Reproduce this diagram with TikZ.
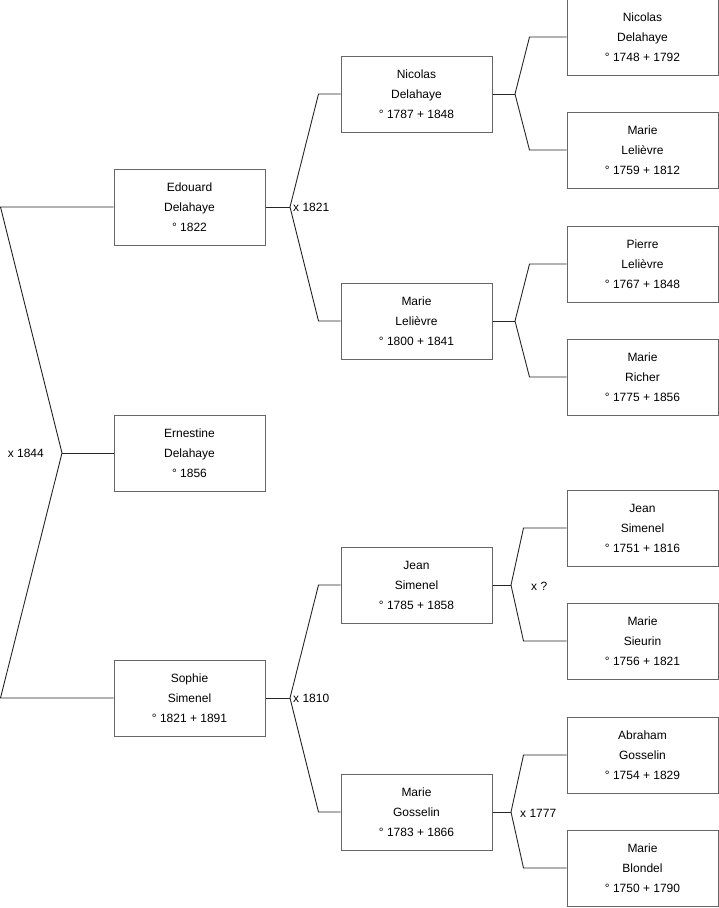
\documentclass[tikz,border=0pt]{standalone}
\usepackage{fontspec}
\setmainfont{Liberation Sans}
\usetikzlibrary{positioning}

\begin{document}
\begin{tikzpicture}[
  x=1pt, y=-1pt,
  font=\fontsize{12}{20}\selectfont,
  person/.style={draw=black!60, line width=1pt, align=center, minimum width=151pt, minimum height=76pt, inner sep=0pt, fill=white},
  link/.style={draw=black!85, line width=0.9pt},
  wed/.style={inner sep=3pt}
]
\useasboundingbox (0,0) rectangle (719,908);

% generation 1
\node[person] (edouard) at (189.5,207) {Edouard\\Delahaye\\° 1822};
\node[person] (ernestine) at (189.5,453) {Ernestine\\Delahaye\\° 1856};
\node[person] (sophie) at (189.5,698) {Sophie\\Simenel\\° 1821 + 1891};

% generation 2
\node[person] (nicolas) at (416.5,94) {Nicolas\\Delahaye\\° 1787 + 1848};
\node[person] (marieL) at (416.5,321) {Marie\\Lelièvre\\° 1800 + 1841};
\node[person] (jean) at (416.5,585) {Jean\\Simenel\\° 1785 + 1858};
\node[person] (marieG) at (416.5,812) {Marie\\Gosselin\\° 1783 + 1866};

% generation 3
\node[person] (nicolasD) at (642.5,37) {Nicolas\\Delahaye\\° 1748 + 1792};
\node[person] (marieLe) at (642.5,150) {Marie\\Lelièvre\\° 1759 + 1812};
\node[person] (pierre) at (642.5,264) {Pierre\\Lelièvre\\° 1767 + 1848};
\node[person] (marieR) at (642.5,377) {Marie\\Richer\\° 1775 + 1856};
\node[person] (jeanS) at (642.5,528) {Jean\\Simenel\\° 1751 + 1816};
\node[person] (marieS) at (642.5,641) {Marie\\Sieurin\\° 1756 + 1821};
\node[person] (abraham) at (642.5,755) {Abraham\\Gosselin\\° 1754 + 1829};
\node[person] (marieB) at (642.5,868) {Marie\\Blondel\\° 1750 + 1790};

% junctions
\coordinate (m0) at (62,453);
\coordinate (m1) at (290,207);
\coordinate (m2) at (290,698);
\coordinate (m3) at (515,94);
\coordinate (m4) at (515,321);
\coordinate (m5) at (511,585);
\coordinate (m6) at (511,812);

\draw[link] (ernestine.west) -- (m0);
\draw[link] (edouard.west) -- ([xshift=-113]edouard.west) -- (m0) -- ([xshift=-113]sophie.west) -- (sophie.west);

\draw[link] (edouard.east) -- (m1);
\draw[link] (nicolas.west) -- ([xshift=-22]nicolas.west) -- (m1) -- ([xshift=-22]marieL.west) -- (marieL.west);
\draw[link] (sophie.east) -- (m2);
\draw[link] (jean.west) -- ([xshift=-22]jean.west) -- (m2) -- ([xshift=-22]marieG.west) -- (marieG.west);

\draw[link] (nicolas.east) -- (m3);
\draw[link] (nicolasD.west) -- ([xshift=-37]nicolasD.west) -- (m3) -- ([xshift=-37]marieLe.west) -- (marieLe.west);
\draw[link] (marieL.east) -- (m4);
\draw[link] (pierre.west) -- ([xshift=-37]pierre.west) -- (m4) -- ([xshift=-37]marieR.west) -- (marieR.west);
\draw[link] (jean.east) -- (m5);
\draw[link] (jeanS.west) -- ([xshift=-43]jeanS.west) -- (m5) -- ([xshift=-43]marieS.west) -- (marieS.west);
\draw[link] (marieG.east) -- (m6);
\draw[link] (abraham.west) -- ([xshift=-43]abraham.west) -- (m6) -- ([xshift=-43]marieB.west) -- (marieB.west);

% marriages
\node[wed, left=15pt of m0] (x0) {x 1844};
\node[wed, right=0pt of m1] (x1) {x 1821};
\node[wed, right=0pt of m2] (x2) {x 1810};
\node[wed, right=17pt of m5, yshift=-1pt] (x5) {x ?};
\node[wed, right=6pt of m6, yshift=-1pt] (x6) {x 1777};
\end{tikzpicture}
\end{document}
